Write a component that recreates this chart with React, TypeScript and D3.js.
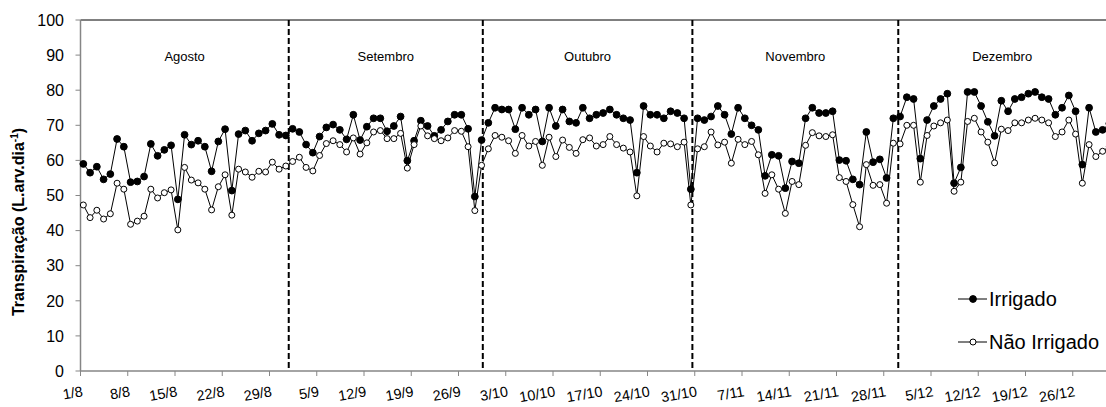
import React from 'react';
import * as d3 from 'd3';

const irrigado = [
  59.0, 56.5, 58.2, 54.6, 56.1, 66.1, 63.9, 53.8, 54.0, 55.4,
  64.7, 61.3, 63.0, 64.3, 48.9, 67.3, 64.5, 65.6, 63.9, 56.9,
  65.4, 68.9, 51.4, 67.5, 68.5, 65.6, 67.7, 68.5, 70.4, 67.3,
  67.1, 69.0, 68.1, 64.5, 62.2, 66.8, 69.4, 70.2, 68.7, 66.0,
  73.0, 65.8, 69.6, 72.0, 72.0, 68.3, 69.8, 72.5, 59.9, 65.6,
  71.3, 69.8, 67.0, 68.7, 71.1, 73.0, 73.0, 69.0, 49.7, 65.8,
  70.7, 75.0, 74.5, 74.5, 68.9, 75.0, 73.0, 74.5, 65.4, 75.0,
  69.8, 74.5, 71.1, 70.7, 75.0, 72.0, 73.0, 73.5, 74.5, 73.0,
  72.0, 71.5, 56.5, 75.5, 73.0, 73.0, 72.0, 74.0, 73.5, 72.0,
  51.8, 72.0, 71.5, 72.5, 75.5, 73.0, 67.5, 75.0, 72.0, 70.0,
  68.7, 55.6, 61.6, 61.3, 52.1, 59.7, 59.2, 72.0, 75.0, 73.5,
  73.5, 74.0, 60.1, 59.9, 54.6, 53.1, 68.1, 59.5, 60.3, 55.0,
  72.0, 72.5, 78.0, 77.5, 60.5, 71.5, 75.5, 77.5, 79.0, 53.5,
  58.0, 79.5, 79.5, 75.5, 71.0, 67.0, 77.0, 74.0, 77.5, 78.0,
  79.0, 79.5, 78.0, 77.5, 73.0, 75.0, 78.5, 74.0, 58.8, 75.0,
  68.1, 68.7, 70.5,
];

const naoIrrigado = [
  47.3, 43.7, 45.8, 43.3, 44.8, 53.5, 51.8, 41.8, 42.7, 44.1,
  51.8, 49.3, 50.8, 51.6, 40.2, 58.0, 54.4, 53.6, 51.8, 45.9,
  52.5, 55.9, 44.4, 57.5, 56.7, 55.2, 56.9, 56.7, 59.5, 57.5,
  58.4, 59.7, 60.9, 58.0, 57.0, 61.4, 64.8, 65.6, 64.5, 62.4,
  66.4, 61.8, 65.0, 68.1, 68.5, 66.2, 66.2, 67.7, 57.8, 64.5,
  69.8, 67.0, 66.2, 65.6, 66.4, 68.5, 68.3, 63.9, 45.7, 58.6,
  63.3, 67.1, 66.6, 65.6, 62.0, 67.1, 64.1, 65.4, 58.6, 66.6,
  61.1, 65.8, 63.7, 62.0, 65.9, 66.4, 64.1, 64.5, 66.8, 64.5,
  63.5, 62.4, 49.9, 66.8, 64.1, 62.4, 64.9, 64.7, 63.9, 65.2,
  47.3, 63.3, 63.9, 68.1, 64.4, 65.2, 59.2, 66.0, 64.5, 65.4,
  61.6, 50.6, 55.9, 51.8, 44.9, 54.0, 53.1, 64.3, 67.9, 67.0,
  66.8, 67.3, 55.1, 54.0, 47.4, 41.1, 58.8, 52.9, 53.1, 47.8,
  64.9, 64.7, 70.0, 70.0, 53.8, 67.1, 69.8, 70.7, 71.5, 51.2,
  53.8, 71.1, 72.0, 68.1, 65.2, 59.3, 68.9, 68.5, 70.7, 70.7,
  71.5, 72.0, 71.5, 70.7, 66.8, 68.1, 71.5, 67.5, 53.5, 64.5,
  61.1, 62.6, 64.0,
];

const tickLabels = [
  '1/8', '8/8', '15/8', '22/8', '29/8', '5/9', '12/9', '19/9', '26/9',
  '3/10', '10/10', '17/10', '24/10', '31/10', '7/11', '14/11', '21/11',
  '28/11', '5/12', '12/12', '19/12', '26/12',
];
const tickStep = 7;
const yTicks = [0, 10, 20, 30, 40, 50, 60, 70, 80, 90, 100];
const monthNames = ['Agosto', 'Setembro', 'Outubro', 'Novembro', 'Dezembro'];
const monthDividers = [30.85, 59.6, 90.65, 121.15];
const seriesNames = ['Irrigado', 'Não Irrigado'];

const W = 1106;
const H = 407;
const left = 80.5;
const dayPx = 6.75;
const nDays = 153;
const top = 20;
const bottom = 371;
const pointOffset = 0.42;

export default function App() {
  const x = d3.scaleLinear().domain([0, nDays]).range([left, left + nDays * dayPx]);
  const y = d3.scaleLinear().domain([0, 100]).range([bottom, top]);
  const line = d3
    .line<number>()
    .x((_, i) => x(i + pointOffset))
    .y((d) => y(d));

  const endDay = x.invert(W);
  const bounds = [0, ...monthDividers, endDay];
  const axisColor = '#868686';
  const font = 'Liberation Sans, Arial, sans-serif';

  const series = [
    { name: seriesNames[0], data: irrigado, fill: '#000', r: 3.4 },
    { name: seriesNames[1], data: naoIrrigado, fill: '#fff', r: 3.0 },
  ];

  return (
    <svg
      width={W}
      height={H}
      style={{ position: 'absolute', left: 0, top: 0, background: '#fff' }}
      fontFamily={font}
    >
      <rect x={0} y={0} width={W} height={H} fill="#fff" />
      <line x1={x(0)} x2={W} y1={y(100)} y2={y(100)} stroke="#000" strokeWidth={1} />
      <line x1={x(0)} x2={x(0)} y1={y(100)} y2={y(0)} stroke={axisColor} strokeWidth={1.5} />
      {yTicks.map((t) => (
        <g key={t}>
          <line x1={x(0) - 5} x2={x(0)} y1={y(t)} y2={y(t)} stroke={axisColor} strokeWidth={1} />
          <text x={64} y={y(t)} dy="0.36em" textAnchor="end" fontSize={16} fill="#000">
            {t}
          </text>
        </g>
      ))}
      <line x1={x(0)} x2={W} y1={y(0)} y2={y(0)} stroke={axisColor} strokeWidth={1.5} />
      {tickLabels.map((lab, j) => {
        const tx = x(j * tickStep);
        return (
          <g key={lab}>
            <line x1={tx} x2={tx} y1={y(0)} y2={y(0) + 5} stroke={axisColor} strokeWidth={1} />
            <text
              x={tx + 3}
              y={396}
              textAnchor="end"
              fontSize={14.5}
              transform={`rotate(-10, ${tx + 3}, 396)`}
            >
              {lab}
            </text>
          </g>
        );
      })}
      {monthDividers.map((d) => (
        <line
          key={d}
          x1={x(d)}
          x2={x(d)}
          y1={y(100)}
          y2={y(0)}
          stroke="#000"
          strokeWidth={2}
          strokeDasharray="6,3"
        />
      ))}
      {monthNames.map((m, k) => (
        <text
          key={m}
          x={x((bounds[k] + bounds[k + 1]) / 2)}
          y={61}
          textAnchor="middle"
          fontSize={13}
        >
          {m}
        </text>
      ))}
      {series.map((s) => (
        <g key={s.name}>
          <path d={line(s.data) || ''} fill="none" stroke="#000" strokeWidth={1} />
          {s.data.map((v, i) => (
            <circle
              key={i}
              cx={x(i + pointOffset)}
              cy={y(v)}
              r={s.r}
              fill={s.fill}
              stroke="#000"
              strokeWidth={1}
            />
          ))}
        </g>
      ))}
      {series.map((s, k) => {
        const ly = 299 + k * 43;
        return (
          <g key={'lg' + s.name}>
            <line x1={958} x2={987} y1={ly} y2={ly} stroke="#000" strokeWidth={1} />
            <circle cx={973} cy={ly} r={s.r} fill={s.fill} stroke="#000" strokeWidth={1} />
            <text x={989} y={ly} dy="0.36em" fontSize={20}>
              {s.name}
            </text>
          </g>
        );
      })}
      <text
        transform={`translate(24, 222) rotate(-90)`}
        textAnchor="middle"
        fontSize={16}
        fontWeight="bold"
      >
        Transpiração (L.arv.dia
        <tspan dy={-6} fontSize={10}>
          -1
        </tspan>
        <tspan dy={6}>)</tspan>
      </text>
    </svg>
  );
}
